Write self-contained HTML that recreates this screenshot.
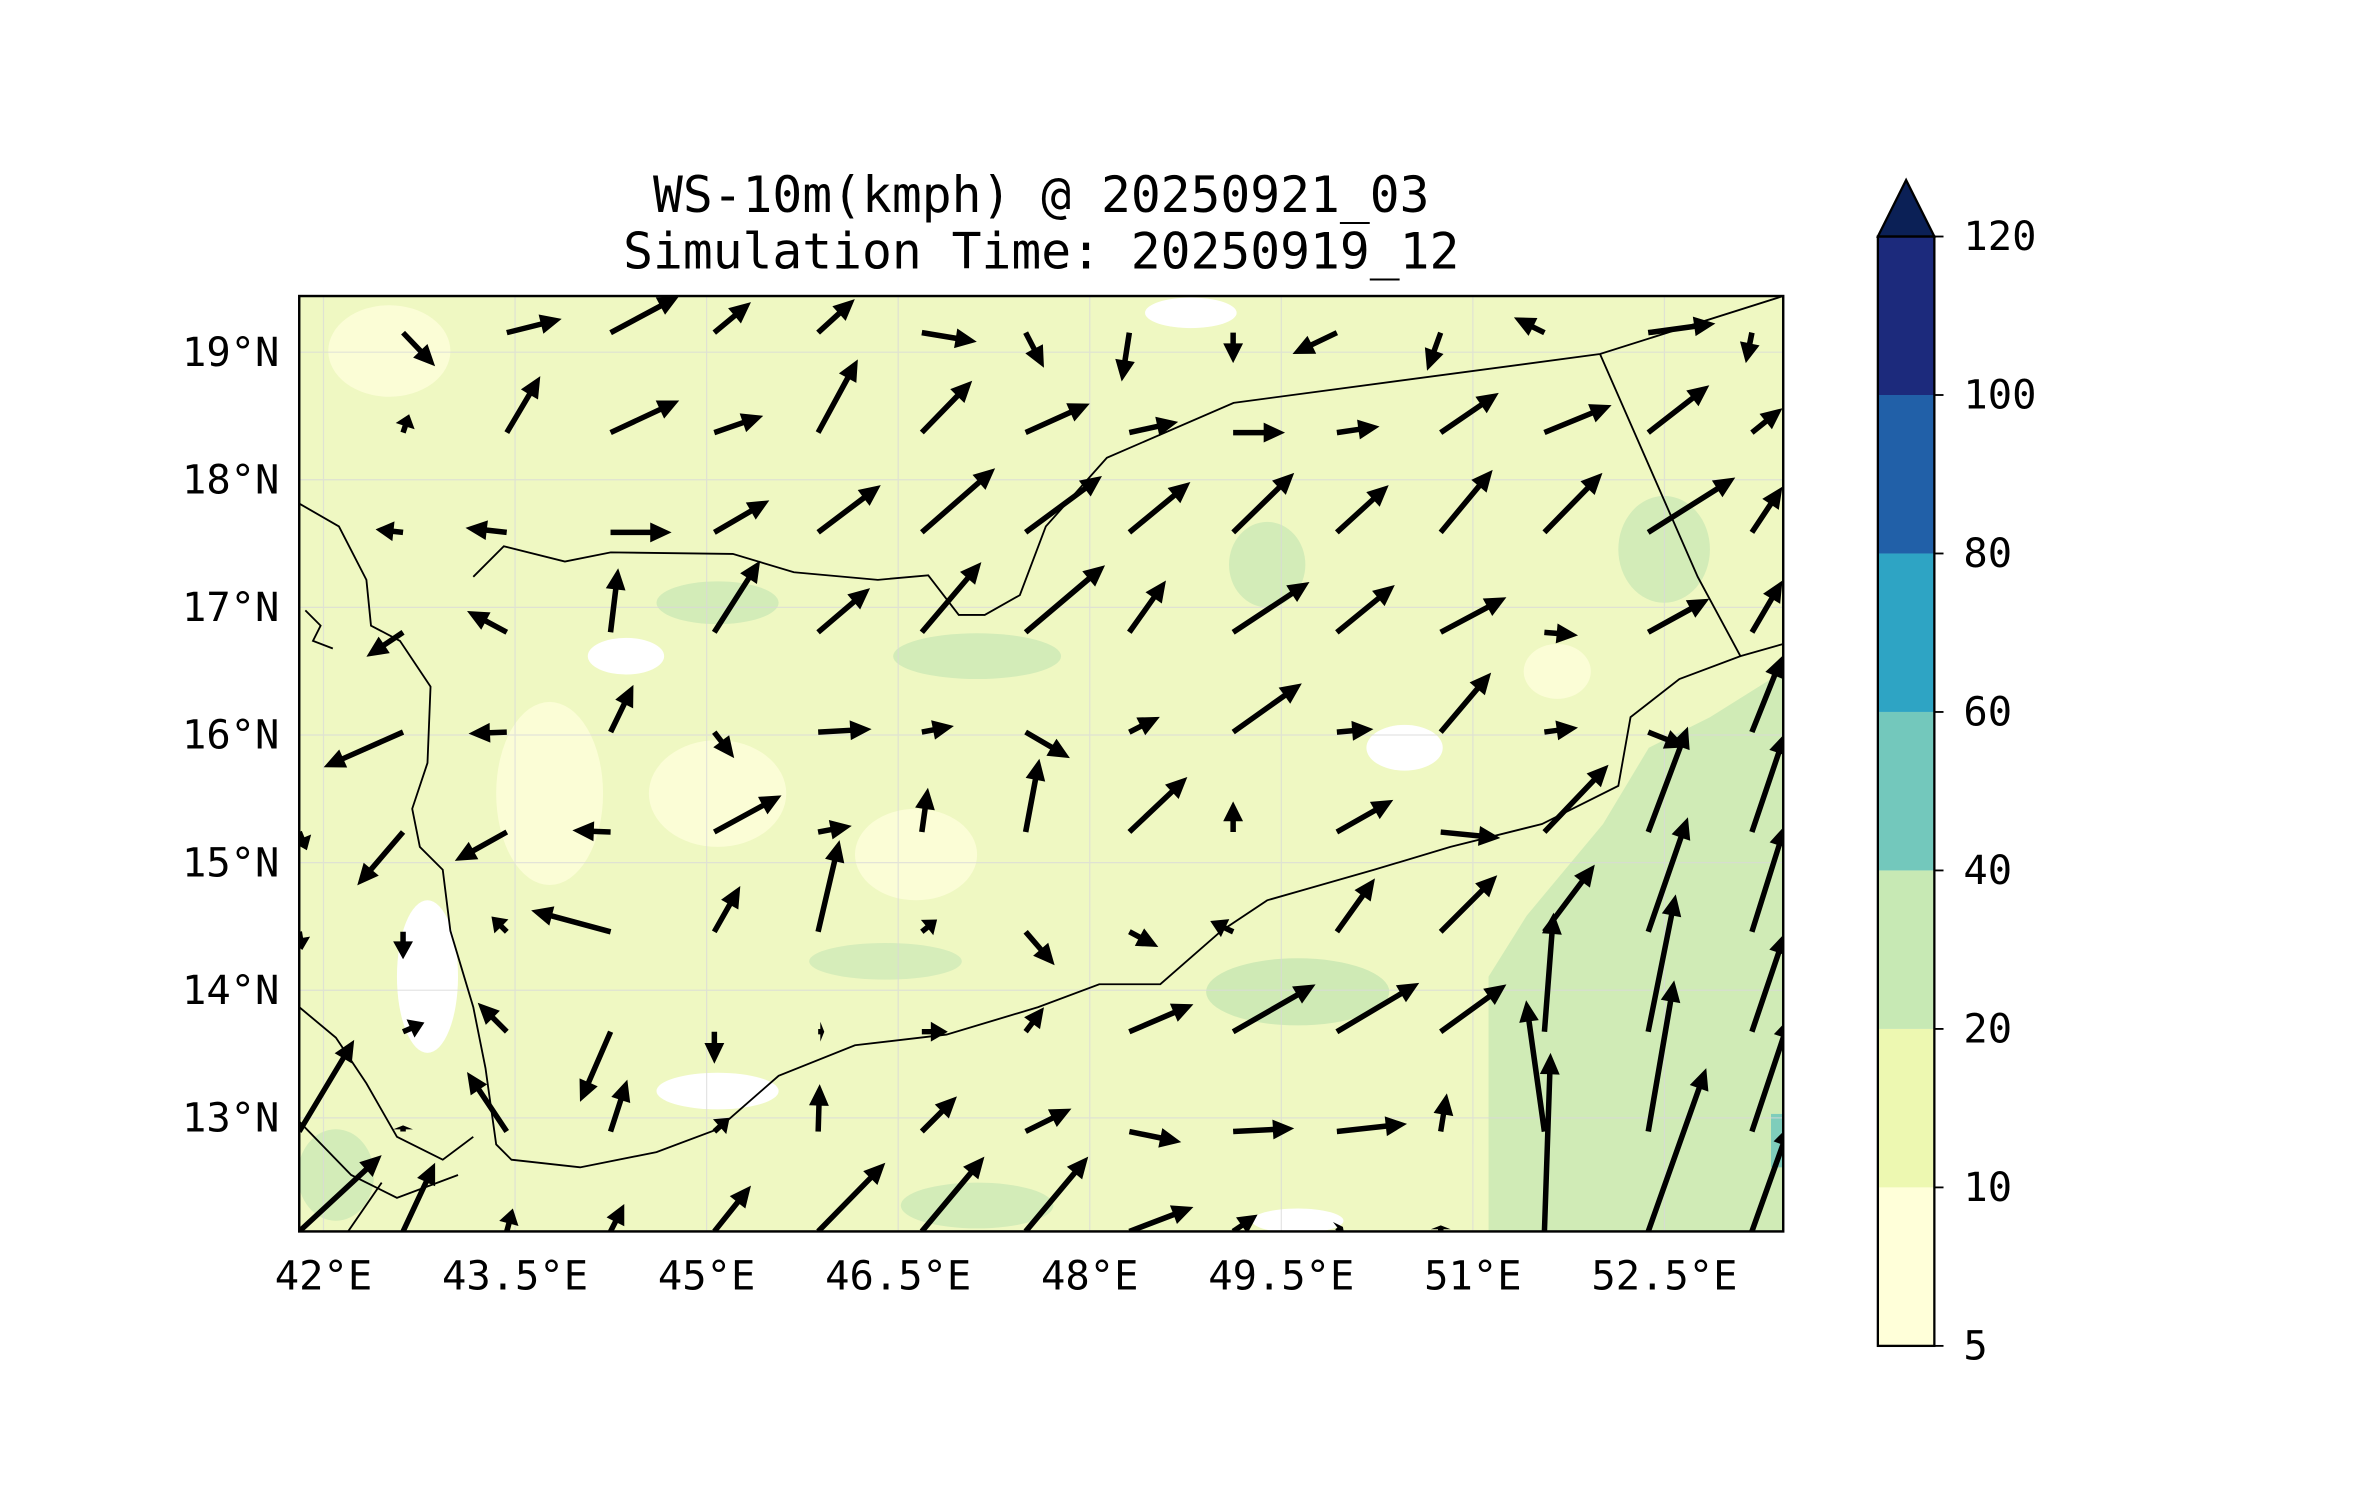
<!DOCTYPE html>
<html><head><meta charset="utf-8"><style>
html,body{margin:0;padding:0;background:#fff;}
svg{display:block;}
text{font-family:"DejaVu Sans Mono","Liberation Mono",monospace;fill:#000;}
</style></head><body>
<svg id="chart" width="2371" height="1500" viewBox="0 0 1553 983" preserveAspectRatio="none" xmlns="http://www.w3.org/2000/svg">
<defs><clipPath id="mapclip"><rect x="196" y="194" width="972" height="613"/></clipPath></defs>
<text x="682" y="139" font-size="32.5" text-anchor="middle">WS-10m(kmph) @ 20250921_03</text>
<text x="682" y="176" font-size="32.5" text-anchor="middle">Simulation Time: 20250919_12</text>
<g id="map" clip-path="url(#mapclip)">
 <rect x="196" y="194" width="972" height="613" fill="#eff8c2"/>
 <g>
  <path d="M975 807 L975 640 1000 600 1050 540 1080 490 1120 470 1168 440 1168 807Z" fill="#d0ebb6"/>
  <ellipse cx="850" cy="650" rx="60" ry="22" fill="#cfeab5"/>
  <ellipse cx="640" cy="430" rx="55" ry="15" fill="#d3ecb8"/>
  <ellipse cx="470" cy="395" rx="40" ry="14" fill="#d3ecb8"/>
  <ellipse cx="830" cy="370" rx="25" ry="28" fill="#d3ecb8"/>
  <ellipse cx="1090" cy="360" rx="30" ry="35" fill="#d3ecb8"/>
  <ellipse cx="640" cy="790" rx="50" ry="15" fill="#d3ecb8"/>
  <ellipse cx="220" cy="770" rx="25" ry="30" fill="#d3ecb8"/>
  <ellipse cx="580" cy="630" rx="50" ry="12" fill="#d6edba"/>
  <ellipse cx="470" cy="520" rx="45" ry="35" fill="#fbfdd6"/>
  <ellipse cx="360" cy="520" rx="35" ry="60" fill="#fbfdd6"/>
  <ellipse cx="600" cy="560" rx="40" ry="30" fill="#fbfdd6"/>
  <ellipse cx="255" cy="230" rx="40" ry="30" fill="#fbfdd6"/>
  <ellipse cx="280" cy="640" rx="20" ry="50" fill="#ffffff"/>
  <ellipse cx="470" cy="715" rx="40" ry="12" fill="#ffffff"/>
  <ellipse cx="920" cy="490" rx="25" ry="15" fill="#ffffff"/>
  <ellipse cx="1020" cy="440" rx="22" ry="18" fill="#fbfdd6"/>
  <ellipse cx="780" cy="205" rx="30" ry="10" fill="#ffffff"/>
  <ellipse cx="850" cy="800" rx="30" ry="8" fill="#ffffff"/>
  <ellipse cx="410" cy="430" rx="25" ry="12" fill="#ffffff"/>
  <rect x="1160" y="730" width="8" height="35" fill="#7fcdbb"/>
 </g>
 <g id="grid" stroke="#d9d9d9" stroke-width="0.8" opacity="0.7"></g>
 <g fill="none" stroke="#000" stroke-width="1.2">
  <path d="M196 330 L222 345 240 380 243 410 262 420 282 450 280 500 270 530 275 555 290 570 295 610 310 660 318 700 325 750 335 760 380 765 430 755 470 740 510 705 560 685 620 678 680 660 720 645 760 645 800 610 830 590 900 570 950 555 1010 540 1060 515 1068 470 1100 445 1140 430 1168 422"/>
  <path d="M310 378 L330 358 370 368 400 362 480 363 520 375 575 380 608 377 628 403 645 403 668 390 685 345 725 300 808 264 1048 232 1168 194"/>
  <path d="M1048 232 L1112 378 1140 430"/>
  <path d="M196 660 L220 680 240 710 260 745 290 760 310 745"/>
  <path d="M196 735 L230 770 260 785 300 770 M228 807 L250 775"/>
  <path d="M200 400 L210 410 205 420 218 425"/>
 </g>
 <g id="quiver"></g>
</g>
<rect x="196" y="194" width="972" height="613" fill="none" stroke="#000" stroke-width="1.6"/>
<g id="axes"></g>
<g id="cbar"></g>
</svg>
<script>
const lonTicks = [42, 43.5, 45, 46.5, 48, 49.5, 51, 52.5];
const lonLabels = ["42°E","43.5°E","45°E","46.5°E","48°E","49.5°E","51°E","52.5°E"];
const latTicks = [13, 14, 15, 16, 17, 18, 19];
const latLabels = ["13°N","14°N","15°N","16°N","17°N","18°N","19°N"];
const gridLons = [41.81,42.623,43.435,44.248,45.06,45.873,46.685,47.498,48.31,49.123,49.935,50.748,51.56,52.373,53.185];
const gridLats = [12.11,12.893,13.675,14.458,15.24,16.023,16.805,17.588,18.37,19.153];
// u (east) and v (north) wind components, rows south->north
const uRows = [
 [54,21,4,9,24,44,41,41,42,16,4,0,4,38,25],
 [36,0,-26,11,10,1,23,30,34,40,46,4,-12,17,25],
 [0,14,-19,-20,0,4,17,12,42,54,54,43,6,18,22],
 [2,0,-10,-52,17,14,10,19,19,-15,25,37,33,26,22],
 [5,-30,-34,-25,44,22,4,9,38,0,37,39,42,26,22],
 [0,-52,-25,15,13,35,21,29,20,45,24,33,22,25,20],
 [0,-24,-26,5,30,34,39,52,24,50,38,43,22,40,20],
 [0,-18,-27,40,36,41,48,50,40,40,34,34,38,57,20],
 [0,4,22,45,32,26,33,42,32,34,28,38,44,40,20],
 [0,21,36,45,24,24,36,12,-5,0,-29,-9,-20,44,-4]
];
const vRows = [
 [50,45,15,18,30,45,49,49,16,11,3,4,117,107,70],
 [60,4,39,34,9,31,23,15,-7,2,5,25,86,99,75],
 [0,6,19,-46,-21,0,0,16,18,31,32,31,78,90,65],
 [-12,-18,10,14,30,60,8,-22,-10,7,35,37,44,75,70],
 [-12,-35,-19,1,24,4,29,48,36,20,21,-4,44,69,65],
 [0,-23,-1,31,-17,2,4,-17,10,32,2,39,3,-10,50],
 [0,-16,14,42,47,29,46,44,34,33,31,23,-2,22,34],
 [0,2,3,0,21,31,42,37,33,39,31,41,39,36,30],
 [0,12,37,21,11,48,34,19,7,0,4,26,18,31,16],
 [0,-22,9,24,20,22,-6,-23,-32,-20,-14,-25,10,6,-20]
];
const cbLevels = [5,10,20,40,60,80,100,120];
const cbColors = ["#ffffd9","#edf8b1","#c7e9b4","#73c8bc","#2ea4c4","#2160a8","#1c2a7c"];
const cbExtendColor = "#0b2056";

const NS = "http://www.w3.org/2000/svg";
const X0=196,X1=1168,Y0=194,Y1=807, LON0=41.81,LON1=53.43, LAT0=12.11,LAT1=19.44;
const xS = lon => X0 + (lon-LON0)/(LON1-LON0)*(X1-X0);
const yS = lat => Y1 - (lat-LAT0)/(LAT1-LAT0)*(Y1-Y0);
const SCALE = 1.0;
function mk(tag, attrs, parent){const e=document.createElementNS(NS,tag);for(const k in attrs)e.setAttribute(k,attrs[k]);parent.appendChild(e);return e;}

const grid=document.getElementById('grid');
lonTicks.forEach(l=>{const e=mk('line',{x1:xS(l),x2:xS(l),y1:Y0,y2:Y1},grid);

});
latTicks.forEach(l=>{const e=mk('line',{x1:X0,x2:X1,y1:yS(l),y2:yS(l)},grid);

});

const axes=document.getElementById('axes');
lonTicks.forEach((l,i)=>{const t=mk('text',{x:xS(l),y:845,'font-size':26.5,'text-anchor':'middle'},axes);t.textContent=lonLabels[i];

});
latTicks.forEach((l,i)=>{const t=mk('text',{x:183,y:yS(l)+9,'font-size':26.5,'text-anchor':'end'},axes);t.textContent=latLabels[i];

});

const q=document.getElementById('quiver');
for(let j=0;j<gridLats.length;j++){for(let i=0;i<gridLons.length;i++){
 const u=uRows[j][i]*SCALE, v=vRows[j][i]*SCALE;
 const L=Math.hypot(u,v); if(L<3) continue;
 const x=xS(gridLons[i]), y=yS(gridLats[j]);
 const ux=u/L, uy=-v/L, px=-uy, py=ux;
 const sw=1.8, hw=6.5, hl=Math.min(14,L*0.65);
 const bx=x+ux*(L-hl), by=y+uy*(L-hl), tx=x+ux*L, ty=y+uy*L;
 const pts=[[x+px*sw,y+py*sw],[bx+px*sw,by+py*sw],[bx+px*hw,by+py*hw],[tx,ty],[bx-px*hw,by-py*hw],[bx-px*sw,by-py*sw],[x-px*sw,y-py*sw]];
 const a=mk('polygon',{points:pts.map(p=>p[0].toFixed(1)+','+p[1].toFixed(1)).join(' '),fill:'#000'},q);
 
 
}}

const cb=document.getElementById('cbar');
const CX=1230,CW=37,CY0=882,CY1=155;
const cy = k => CY0 - k*(CY0-CY1)/(cbLevels.length-1);
cbColors.forEach((c,k)=>{const r=mk('rect',{x:CX,y:cy(k+1),width:CW,height:cy(k)-cy(k+1),fill:c},cb);

});
const tri=mk('polygon',{points:`${CX},${CY1} ${CX+CW},${CY1} ${CX+CW/2},118`,fill:cbExtendColor,stroke:'#000','stroke-width':1.5},cb);


const fr=mk('rect',{x:CX,y:CY1,width:CW,height:CY0-CY1,fill:'none',stroke:'#000','stroke-width':1.5},cb);


cbLevels.forEach((lv,k)=>{mk('line',{x1:CX+CW,x2:CX+CW+6,y1:cy(k),y2:cy(k),stroke:'#000','stroke-width':1.2},cb);
 const t=mk('text',{x:1286,y:cy(k)+9,'font-size':26.5},cb);t.textContent=lv;
 
 });
</script>
</body></html>
